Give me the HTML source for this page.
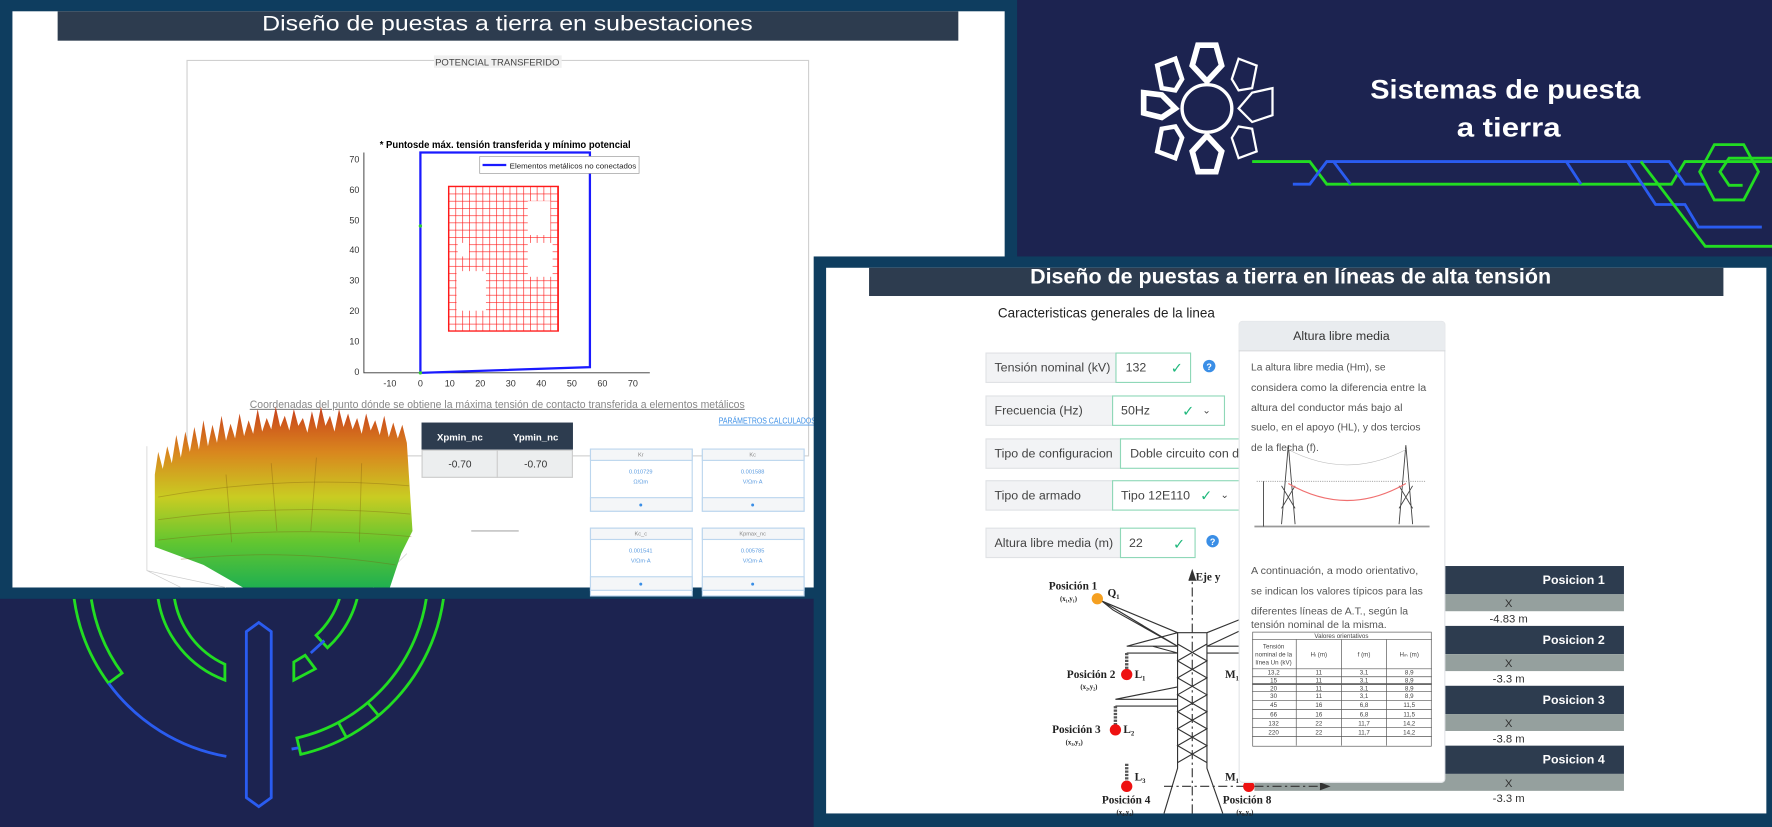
<!DOCTYPE html>
<html><head><meta charset="utf-8"><style>
html,body{margin:0;padding:0;background:#1c2350;}
svg{display:block;font-family:"Liberation Sans",sans-serif;}
</style></head><body>
<svg width="1772" height="827" viewBox="0 0 1568 732" preserveAspectRatio="none" xmlns="http://www.w3.org/2000/svg">
<defs>
<linearGradient id="surf" x1="0" y1="0" x2="0" y2="1">
<stop offset="0" stop-color="#c8401c"/><stop offset="0.25" stop-color="#d9861e"/><stop offset="0.5" stop-color="#c9cc22"/><stop offset="0.75" stop-color="#62c630"/><stop offset="1" stop-color="#20b050"/></linearGradient>
<pattern id="grid" width="6" height="6.4" patternUnits="userSpaceOnUse" x="397" y="165"><path d="M0 0H6M0 0V6.4" stroke="#ff1a1a" stroke-width="1.1" fill="none"/></pattern>
<clipPath id="blc"><rect x="0" y="530" width="720" height="202"/></clipPath>
<clipPath id="tb2"><rect x="769" y="237" width="756" height="25"/></clipPath>
</defs>
<rect width="1568" height="732" fill="#1c2350"/>

<g clip-path="url(#blc)" fill="none" stroke-width="2.5">
<path d="M65.6,530 A165,165 0 0 0 96,604.7 L108,595.8 A150,150 0 0 1 80.8,530.5" stroke="#22dd22"/>
<path d="M96,604.7 A165,165 0 0 0 200.3,669.5" stroke="#2a5cf0"/>
<path d="M392.4,530 A165,165 0 0 1 266.1,667.7 L262.7,653.2 A150,150 0 0 0 377.2,530" stroke="#22dd22"/>
<path d="M325.4,621.9 L335.1,633.4 M299.4,639.4 L306.5,652.7" stroke="#22dd22"/>
<path d="M264,662 L258,663" stroke="#2a5cf0"/>
<path d="M139.9,530 A92,92 0 0 0 199,602 L199,588 A78,78 0 0 1 154.4,530" stroke="#22dd22"/>
<path d="M316,530 A90,90 0 0 1 289.8,573.3 L279.7,562.3 A75,75 0 0 0 300.4,530" stroke="#22dd22"/>
<path d="M287,567 L275,578" stroke="#2a5cf0"/>
<path d="M260,586 L270,580 L279,592 L260,602 Z" stroke="#22dd22"/>
<path d="M229,551 L240,559 L240,706 L229,714 L218,706 L218,559 Z" stroke="#2a5cf0"/>
</g>

<rect x="0" y="0" width="900" height="530" fill="#0e3d5f"/>
<rect x="11" y="10" width="878" height="510" fill="#fff"/>
<rect x="51" y="10" width="797" height="26" fill="#2d3c4f"/>
<text x="449" y="27" fill="#fff" font-size="19" text-anchor="middle" textLength="434" lengthAdjust="spacingAndGlyphs">Diseño de puestas a tierra en subestaciones</text>
<rect x="165.5" y="53.5" width="550" height="350" fill="none" stroke="#d0d0d0"/>
<rect x="384" y="49" width="113" height="11" fill="#f0f0f0"/>
<text x="440" y="58" fill="#444" font-size="8.5" text-anchor="middle" textLength="110" lengthAdjust="spacingAndGlyphs">POTENCIAL TRANSFERIDO</text>
<text x="447" y="131" font-size="9" font-weight="bold" text-anchor="middle" textLength="222" lengthAdjust="spacingAndGlyphs">* Puntosde máx. tensión transferida y mínimo potencial</text>
<g stroke="#333" stroke-width="0.8" fill="none"><path d="M322,135 V330 H575"/></g>
<g font-size="8" fill="#333" text-anchor="end">
<text x="318" y="144">70</text><text x="318" y="171">60</text><text x="318" y="198">50</text><text x="318" y="224">40</text><text x="318" y="251">30</text><text x="318" y="278">20</text><text x="318" y="305">10</text><text x="318" y="332">0</text></g>
<g font-size="8" fill="#333" text-anchor="middle">
<text x="345" y="342">-10</text><text x="372" y="342">0</text><text x="398" y="342">10</text><text x="425" y="342">20</text><text x="452" y="342">30</text><text x="479" y="342">40</text><text x="506" y="342">50</text><text x="533" y="342">60</text><text x="560" y="342">70</text></g>
<path d="M372,135 L522,135 L522,325 L372,330 Z" fill="none" stroke="#1a1aff" stroke-width="2"/>
<rect x="424.5" y="138.5" width="141" height="15" fill="#fff" stroke="#999" stroke-width="0.6"/>
<line x1="427" y1="146" x2="448" y2="146" stroke="#1a1aff" stroke-width="2"/>
<text x="451" y="149" font-size="6.5" fill="#222" textLength="112" lengthAdjust="spacingAndGlyphs">Elementos metálicos no conectados</text>
<rect x="397" y="165" width="97" height="128" fill="url(#grid)" stroke="#ff1a1a" stroke-width="1.2"/>
<g fill="#fff"><rect x="467" y="178" width="20" height="30"/><rect x="467" y="215" width="22" height="30"/><rect x="404" y="240" width="26" height="35"/><rect x="405" y="215" width="10" height="12"/></g>
<circle cx="372" cy="200" r="1.5" fill="#3c3"/><circle cx="372" cy="330" r="1.5" fill="#3c3"/>
<text x="440" y="361" font-size="10" fill="#888" text-anchor="middle" text-decoration="underline" textLength="438" lengthAdjust="spacingAndGlyphs">Coordenadas del punto dónde se obtiene la máxima tensión de contacto transferida a elementos metálicos</text>
<text x="636" y="375" font-size="7" fill="#3a8ee6" text-decoration="underline" textLength="86" lengthAdjust="spacingAndGlyphs">PARÁMETROS CALCULADOS</text>
<rect x="373" y="374" width="134" height="24" fill="#2d3c4f"/>
<text x="407" y="390" font-size="8.5" fill="#fff" text-anchor="middle" font-weight="bold">Xpmin_nc</text>
<text x="474" y="390" font-size="8.5" fill="#fff" text-anchor="middle" font-weight="bold">Ypmin_nc</text>
<rect x="373.5" y="398.5" width="133" height="24" fill="#eceeef" stroke="#ccc"/><line x1="440" y1="398" x2="440" y2="423" stroke="#ccc"/>
<text x="407" y="414" font-size="9" fill="#333" text-anchor="middle">-0.70</text><text x="474" y="414" font-size="9" fill="#333" text-anchor="middle">-0.70</text>
<line x1="417" y1="470" x2="459" y2="470" stroke="#aaa"/>
<g font-size="5" text-anchor="middle" fill="#888">
<rect x="522.5" y="397.5" width="90" height="55" fill="#fff" stroke="#bcd6ee"/><rect x="522.5" y="397.5" width="90" height="10" fill="#f4f6f8" stroke="#bcd6ee"/><rect x="522.5" y="440.5" width="90" height="12" fill="#f4f6f8" stroke="#bcd6ee"/>
<text x="567" y="404">Kr</text><text x="567" y="419" fill="#5a9be0">0.010729</text><text x="567" y="428" fill="#5a9be0">Ω/Ωm</text><circle cx="567" cy="447" r="1.3" fill="#3a8ee6"/>
<rect x="621.5" y="397.5" width="90" height="55" fill="#fff" stroke="#bcd6ee"/><rect x="621.5" y="397.5" width="90" height="10" fill="#f4f6f8" stroke="#bcd6ee"/><rect x="621.5" y="440.5" width="90" height="12" fill="#f4f6f8" stroke="#bcd6ee"/>
<text x="666" y="404">Kc</text><text x="666" y="419" fill="#5a9be0">0.001588</text><text x="666" y="428" fill="#5a9be0">V/Ωm·A</text><circle cx="666" cy="447" r="1.3" fill="#3a8ee6"/>
<rect x="522.5" y="467.5" width="90" height="60" fill="#fff" stroke="#bcd6ee"/><rect x="522.5" y="467.5" width="90" height="10" fill="#f4f6f8" stroke="#bcd6ee"/><rect x="522.5" y="510.5" width="90" height="12" fill="#f4f6f8" stroke="#bcd6ee"/>
<text x="567" y="474">Kc_c</text><text x="567" y="489" fill="#5a9be0">0.001541</text><text x="567" y="498" fill="#5a9be0">V/Ωm·A</text><circle cx="567" cy="517" r="1.3" fill="#3a8ee6"/>
<rect x="621.5" y="467.5" width="90" height="60" fill="#fff" stroke="#bcd6ee"/><rect x="621.5" y="467.5" width="90" height="10" fill="#f4f6f8" stroke="#bcd6ee"/><rect x="621.5" y="510.5" width="90" height="12" fill="#f4f6f8" stroke="#bcd6ee"/>
<text x="666" y="474">Kpmax_nc</text><text x="666" y="489" fill="#5a9be0">0.005785</text><text x="666" y="498" fill="#5a9be0">V/Ωm·A</text><circle cx="666" cy="517" r="1.3" fill="#3a8ee6"/>
</g>
<g stroke="#ccc" stroke-width="0.6" fill="none"><path d="M130,395 V505 L200,520 M130,505 L160,520 M330,520 L360,490"/></g>
<path d="M137,420 L140,400 L144,415 L148,395 L152,410 L156,385 L160,405 L164,382 L168,400 L172,378 L176,398 L180,372 L184,395 L188,376 L192,392 L196,368 L200,390 L204,375 L208,388 L212,366 L216,386 L220,372 L224,384 L228,362 L232,382 L236,370 L240,380 L244,360 L248,378 L252,368 L256,381 L260,362 L264,377 L268,370 L272,383 L276,364 L280,380 L284,360 L288,377 L292,368 L296,382 L300,362 L304,378 L308,366 L312,380 L316,370 L320,384 L324,366 L328,381 L332,372 L336,385 L340,368 L344,387 L348,374 L352,388 L356,376 L360,392 L365,470 L355,490 L345,520 L215,520 L180,500 L137,484 Z" fill="url(#surf)"/>
<g stroke="#7a5a10" stroke-opacity="0.35" stroke-width="0.8" fill="none">
<path d="M140,440 Q250,420 362,430 M140,460 Q250,445 363,455 M140,478 Q250,465 364,475 M160,495 Q250,485 350,500"/>
<path d="M200,420 L205,480 M240,410 L245,470 M280,405 L275,470 M320,410 L318,480"/></g>

<g fill="none" stroke-width="2.5">
<path d="M1108,143 H1159 L1174,163 H1479 L1491,143 H1568" stroke="#22dd22"/>
<path d="M1144,163 H1159 L1174,143 H1477 L1491,163 H1510" stroke="#2a5cf0"/>
<path d="M1180,143 L1195,163 M1386,143 L1399,163" stroke="#2a5cf0"/>
<path d="M1440,143 L1465,181 H1491 L1503,201 H1559" stroke="#2a5cf0"/>
<path d="M1452,143 L1509,218 H1568" stroke="#22dd22"/>
<path d="M1517,128 H1543 L1556,152 L1543,177 H1517 L1504,152 Z" stroke="#22dd22"/>
<path d="M1568,140 H1530 L1522,152 L1530,164 H1542" stroke="#22dd22"/>
</g>
<g stroke="#fff" fill="none">
<ellipse cx="1068" cy="96" rx="22" ry="21" stroke-width="3"/>
<g stroke-width="2">
<path d="M1060,40 L1076,40 L1081,58 L1068,72 L1055,58 Z" stroke-width="5"/>
<path d="M1060,152 L1076,152 L1081,134 L1068,120 L1055,134 Z" stroke-width="5"/>
<path d="M1012,82 L1012,100 L1028,104 L1040,96 L1028,84 Z" stroke-width="5"/>
<path d="M1126,78 L1126,102 L1108,108 L1096,96 L1108,82 Z"/>
<path d="M1024,58 L1040,52 L1046,70 L1040,80 L1028,78 Z" stroke-width="4"/>
<path d="M1112,58 L1096,52 L1090,70 L1096,80 L1108,78 Z"/>
<path d="M1024,134 L1040,140 L1046,122 L1040,112 L1028,114 Z" stroke-width="4"/>
<path d="M1112,134 L1096,140 L1090,122 L1096,112 L1108,114 Z"/>
</g></g>
<text x="1332" y="87" fill="#fff" font-size="24" font-weight="bold" text-anchor="middle" textLength="239" lengthAdjust="spacingAndGlyphs">Sistemas de puesta</text>
<text x="1335" y="121" fill="#fff" font-size="24" font-weight="bold" text-anchor="middle" textLength="92" lengthAdjust="spacingAndGlyphs">a tierra</text>

<rect x="720" y="227" width="848" height="505" fill="#0e3d5f"/>
<rect x="731" y="237" width="832" height="483" fill="#fff"/>
<rect x="769" y="237" width="756" height="25" fill="#2d3c4f"/>
<g clip-path="url(#tb2)"><text x="1142" y="251" fill="#fff" font-size="19" font-weight="bold" text-anchor="middle" textLength="461" lengthAdjust="spacingAndGlyphs">Diseño de puestas a tierra en líneas de alta tensión</text></g>
<text x="883" y="281" font-size="12" fill="#222" textLength="192" lengthAdjust="spacingAndGlyphs">Caracteristicas generales de la linea</text>

<g font-size="11" fill="#444">
<rect x="872.5" y="312.5" width="115" height="26" fill="#f2f3f5" stroke="#e0e2e5"/><rect x="987.5" y="312.5" width="66" height="26" fill="#fff" stroke="#8fd8b8"/>
<text x="880" y="329">Tensión nominal (kV)</text><text x="996" y="329">132</text><text x="1036" y="330" fill="#1fb87c" font-size="13">✓</text>
<circle cx="1070" cy="324" r="5.5" fill="#3a8ee6"/><text x="1070" y="327.5" font-size="8" fill="#fff" text-anchor="middle" font-weight="bold">?</text>
<rect x="872.5" y="350.5" width="112" height="26" fill="#f2f3f5" stroke="#e0e2e5"/><rect x="984.5" y="350.5" width="99" height="26" fill="#fff" stroke="#8fd8b8"/>
<text x="880" y="367">Frecuencia (Hz)</text><text x="992" y="367">50Hz</text><text x="1046" y="368" fill="#1fb87c" font-size="13">✓</text><text x="1064" y="366" font-size="9">⌄</text>
<rect x="872.5" y="388.5" width="119" height="26" fill="#f2f3f5" stroke="#e0e2e5"/><rect x="991.5" y="388.5" width="110" height="26" fill="#fff" stroke="#8fd8b8"/>
<text x="880" y="405">Tipo de configuracion</text><text x="1000" y="405">Doble circuito con d</text>
<rect x="872.5" y="425.5" width="112" height="26" fill="#f2f3f5" stroke="#e0e2e5"/><rect x="984.5" y="425.5" width="115" height="26" fill="#fff" stroke="#8fd8b8"/>
<text x="880" y="442">Tipo de armado</text><text x="992" y="442">Tipo 12E110</text><text x="1062" y="443" fill="#1fb87c" font-size="13">✓</text><text x="1080" y="441" font-size="9">⌄</text>
<rect x="872.5" y="467.5" width="119" height="26" fill="#f2f3f5" stroke="#e0e2e5"/><rect x="991.5" y="467.5" width="66" height="26" fill="#fff" stroke="#8fd8b8"/>
<text x="880" y="484">Altura libre media (m)</text><text x="999" y="484">22</text><text x="1038" y="486" fill="#1fb87c" font-size="13">✓</text>
<circle cx="1073" cy="479" r="5.5" fill="#3a8ee6"/><text x="1073" y="482.5" font-size="8" fill="#fff" text-anchor="middle" font-weight="bold">?</text>
</g>

<g font-size="10">
<rect x="1110" y="501" width="327" height="25" fill="#2d3c4f"/><rect x="1110" y="526" width="327" height="15" fill="#95a09e"/>
<text x="1420" y="517" fill="#fff" font-weight="bold" text-anchor="end" font-size="11">Posicion 1</text><text x="1335" y="537.5" fill="#333" text-anchor="middle">X</text><text x="1335" y="551" fill="#333" text-anchor="middle">-4.83 m</text>
<rect x="1110" y="554" width="327" height="25" fill="#2d3c4f"/><rect x="1110" y="579" width="327" height="15" fill="#95a09e"/>
<text x="1420" y="570" fill="#fff" font-weight="bold" text-anchor="end" font-size="11">Posicion 2</text><text x="1335" y="590.5" fill="#333" text-anchor="middle">X</text><text x="1335" y="604" fill="#333" text-anchor="middle">-3.3 m</text>
<rect x="1110" y="607" width="327" height="25" fill="#2d3c4f"/><rect x="1110" y="632" width="327" height="15" fill="#95a09e"/>
<text x="1420" y="623" fill="#fff" font-weight="bold" text-anchor="end" font-size="11">Posicion 3</text><text x="1335" y="643.5" fill="#333" text-anchor="middle">X</text><text x="1335" y="657" fill="#333" text-anchor="middle">-3.8 m</text>
<rect x="1110" y="660" width="327" height="25" fill="#2d3c4f"/><rect x="1110" y="685" width="327" height="15" fill="#95a09e"/>
<text x="1420" y="676" fill="#fff" font-weight="bold" text-anchor="end" font-size="11">Posicion 4</text><text x="1335" y="696.5" fill="#333" text-anchor="middle">X</text><text x="1335" y="710" fill="#333" text-anchor="middle">-3.3 m</text>
</g>

<g stroke="#333" stroke-width="1" fill="none">
<path d="M1055,720 V512" stroke-dasharray="8,3,2,3"/><path d="M1052,514 L1055,505 L1058,514" fill="#333"/>
<path d="M1030,696 H1170" stroke-dasharray="8,3,2,3"/><path d="M1168,693 L1176,696 L1168,699" fill="#333"/>
<path d="M1042,560 V680 L1030,720 M1068,560 V680 L1082,720 M1042,560 H1068"/>
<path d="M1042,570 L1068,585 L1042,600 L1068,615 L1042,630 L1068,645 L1042,660 L1068,675 M1068,570 L1042,585 L1068,600 L1042,615 L1068,630 L1042,645 L1068,660 L1042,675"/>
<path d="M975,532 L1042,560 L1042,572 L985,540 Z M975,532 L1042,572"/>
<path d="M1068,560 L1098,548 M1068,572 L1098,558"/>
<path d="M997,572 H1042 M997,578 H1042 L1020,572 M997,572 L1042,560"/>
<path d="M987,619 H1042 M987,625 H1042 M987,619 L1042,608"/>
<path d="M1068,572 H1098 M1068,578 H1098"/>
</g>
<g stroke="#555" stroke-width="3" stroke-dasharray="2,1"><path d="M997,578 V594 M987,625 V642 M997,676 V692 M1105,676 V692"/></g>
<circle cx="971" cy="530" r="5" fill="#f5a020"/>
<circle cx="997" cy="597" r="5" fill="#ee1111"/><circle cx="987" cy="646" r="5" fill="#ee1111"/><circle cx="997" cy="696" r="5" fill="#ee1111"/><circle cx="1105" cy="696" r="5" fill="#ee1111"/>
<g font-family="Liberation Serif,serif" font-weight="bold" font-size="10" fill="#222">
<text x="928" y="522">Posición 1</text><text x="938" y="532" font-size="6">(x₁,y₁)</text><text x="980" y="528">Q₁</text>
<text x="1058" y="514">Eje y</text>
<text x="944" y="600">Posición 2</text><text x="956" y="610" font-size="6">(x₂,y₂)</text><text x="1004" y="600">L₁</text>
<text x="931" y="649">Posición 3</text><text x="943" y="659" font-size="6">(x₃,y₃)</text><text x="994" y="649">L₂</text>
<text x="1004" y="691">L₃</text><text x="1084" y="691">M₁</text><text x="1140" y="691">Eje x</text><text x="1084" y="600">M₁</text>
<text x="975" y="711">Posición 4</text><text x="988" y="721" font-size="6">(x₄,y₄)</text>
<text x="1082" y="711">Posición 8</text><text x="1094" y="721" font-size="6">(x₈,y₈)</text>
</g>

<rect x="1096.5" y="284.5" width="182" height="408" rx="3" fill="#fff" stroke="#e2e4e7"/>
<path d="M1096.5,310 V288 Q1096.5,284.5 1100,284.5 H1275 Q1278.5,284.5 1278.5,288 V310 Z" fill="#e9ecef"/>
<line x1="1096" y1="310.5" x2="1279" y2="310.5" stroke="#d6d9dc"/>
<text x="1187" y="301" font-size="11" fill="#333" text-anchor="middle">Altura libre media</text>
<g font-size="9" fill="#555">
<text x="1107" y="328" textLength="119" lengthAdjust="spacingAndGlyphs">La altura libre media (Hm), se</text>
<text x="1107" y="346" textLength="155" lengthAdjust="spacingAndGlyphs">considera como la diferencia entre la</text>
<text x="1107" y="364" textLength="134" lengthAdjust="spacingAndGlyphs">altura del conductor más bajo al</text>
<text x="1107" y="381" textLength="150" lengthAdjust="spacingAndGlyphs">suelo, en el apoyo (HL), y dos tercios</text>
<text x="1107" y="399" textLength="60" lengthAdjust="spacingAndGlyphs">de la flecha (f).</text>
<text x="1107" y="508" textLength="148" lengthAdjust="spacingAndGlyphs">A continuación, a modo orientativo,</text>
<text x="1107" y="526" textLength="152" lengthAdjust="spacingAndGlyphs">se indican los valores típicos para las</text>
<text x="1107" y="544" textLength="139" lengthAdjust="spacingAndGlyphs">diferentes líneas de A.T., según la</text>
<text x="1107" y="556" textLength="120" lengthAdjust="spacingAndGlyphs">tensión nominal de la misma.</text>
</g>
<g fill="none" stroke="#444" stroke-width="0.8">
<path d="M1140,394 L1134,464 M1140,394 L1146,464 M1134,430 L1146,450 M1146,430 L1134,450"/>
<path d="M1244,394 L1238,464 M1244,394 L1250,464 M1238,430 L1250,450 M1250,430 L1238,450"/>
<path d="M1140,398 Q1192,425 1244,398" stroke="#bbb" stroke-width="0.5"/>
<path d="M1110,466 H1265" stroke-width="1.5" stroke="#999"/>
<path d="M1112,426 H1262" stroke="#999" stroke-dasharray="1,1"/>
<path d="M1118,426 V466"/>
</g>
<path d="M1140,428 Q1192,458 1244,428" stroke="#f07070" stroke-width="1" fill="none"/>
<g fill="none" stroke="#555" stroke-width="0.6">
<rect x="1108.5" y="559.5" width="158" height="101"/>
<path d="M1108,566 H1267 M1108,592 H1267 M1108,599 H1267 M1108,612 H1267 M1108,620 H1267 M1108,628 H1267 M1108,636 H1267 M1108,644 H1267 M1108,652 H1267 M1147,566 V660 M1187,566 V660 M1227,566 V660"/>
<path d="M1108,605.5 H1267" stroke-width="1.5"/>
</g>
<g font-size="5.5" fill="#444" text-anchor="middle">
<text x="1187" y="564.5">Valores orientativos</text>
<text x="1127" y="574">Tensión</text><text x="1127" y="581">nominal de la</text><text x="1127" y="588">línea Un (kV)</text>
<text x="1167" y="581">Hₗ (m)</text><text x="1207" y="581">f (m)</text><text x="1247" y="581">Hₘ (m)</text>
<text x="1127" y="597">13,2</text><text x="1167" y="597">11</text><text x="1207" y="597">3,1</text><text x="1247" y="597">8,9</text>
<text x="1127" y="604">15</text><text x="1167" y="604">11</text><text x="1207" y="604">3,1</text><text x="1247" y="604">8,9</text>
<text x="1127" y="611">20</text><text x="1167" y="611">11</text><text x="1207" y="611">3,1</text><text x="1247" y="611">8,9</text>
<text x="1127" y="618">30</text><text x="1167" y="618">11</text><text x="1207" y="618">3,1</text><text x="1247" y="618">8,9</text>
<text x="1127" y="626">45</text><text x="1167" y="626">16</text><text x="1207" y="626">6,8</text><text x="1247" y="626">11,5</text>
<text x="1127" y="634">66</text><text x="1167" y="634">16</text><text x="1207" y="634">6,8</text><text x="1247" y="634">11,5</text>
<text x="1127" y="642">132</text><text x="1167" y="642">22</text><text x="1207" y="642">11,7</text><text x="1247" y="642">14,2</text>
<text x="1127" y="650">220</text><text x="1167" y="650">22</text><text x="1207" y="650">11,7</text><text x="1247" y="650">14,2</text>
</g>
</svg>
</body></html>
